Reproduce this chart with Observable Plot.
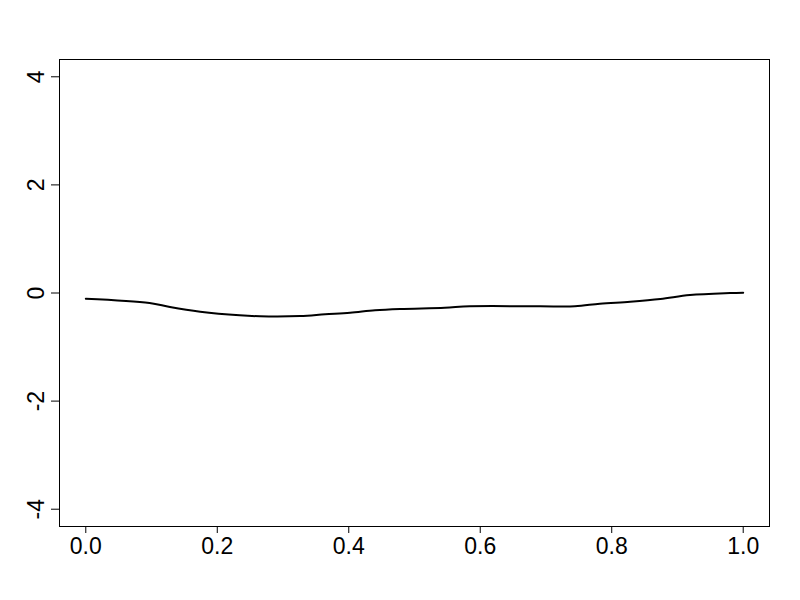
<!DOCTYPE html>
<html>
<head>
<meta charset="utf-8">
<script src="https://cdn.jsdelivr.net/npm/d3@7"></script>
<script src="https://cdn.jsdelivr.net/npm/@observablehq/plot@0.6"></script>
<style>
  html, body { margin: 0; padding: 0; background: #fff; }
  svg { display: block; }
</style>
</head>
<body>
<div id="chart"></div>
<script>
const xs = [0.0, 0.097, 0.128, 0.174, 0.234, 0.265, 0.326, 0.364, 0.402, 0.44, 0.478, 0.546, 0.584, 0.691, 0.744, 0.782, 0.828, 0.874, 0.919, 0.98, 1.0];
const ys = [-0.106, -0.185, -0.26, -0.346, -0.413, -0.43, -0.426, -0.394, -0.365, -0.32, -0.296, -0.272, -0.246, -0.246, -0.246, -0.198, -0.161, -0.111, -0.037, 0.0, 0.006];
const xTicks = [0, 0.2, 0.4, 0.6, 0.8, 1.0];
const yTicks = [-4, -2, 0, 2, 4];

const data = xs.map((x, i) => ({x, y: ys[i]}));
const font = "Liberation Sans, Arial, sans-serif";

const chart = Plot.plot({
  width: 800,
  height: 600,
  marginLeft: 59,
  marginRight: 31,
  marginTop: 59,
  marginBottom: 74,
  style: {fontFamily: font, fontSize: "23px", background: "#fff", color: "#000"},
  x: {domain: [-0.04, 1.04]},
  y: {domain: [-4.32, 4.32]},
  marks: [
    Plot.frame({stroke: "#000", strokeWidth: 1}),
    Plot.axisX({ticks: xTicks, tickSize: 7, tickPadding: 4, tickFormat: d => d.toFixed(1), label: null, fontSize: 23, stroke: "#000"}),
    Plot.axisY({ticks: yTicks, tickSize: 8, tickFormat: () => "", label: null, stroke: "#000"}),
    Plot.text(yTicks, {x: -0.04, y: d => d, text: d => String(d), rotate: -90, frameAnchor: "left", dx: -16, textAnchor: "middle", lineAnchor: "bottom", fontSize: 23, fill: "#000"}),
    Plot.line(data, {x: "x", y: "y", stroke: "#000", strokeWidth: 2, curve: "catmull-rom"})
  ]
});
document.getElementById("chart").appendChild(chart);
</script>
</body>
</html>
